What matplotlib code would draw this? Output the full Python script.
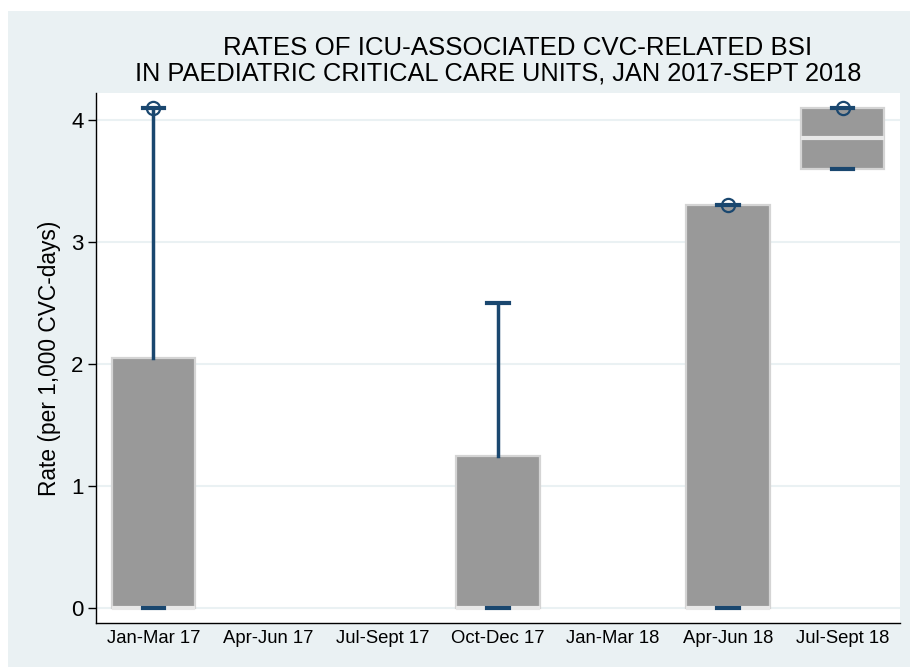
import matplotlib
matplotlib.use('Agg')
import matplotlib.pyplot as plt
from matplotlib.patches import Rectangle

plt.rcParams['font.family'] = ['Liberation Sans', 'DejaVu Sans']

# quarters and box summary values (None = no data)
quarters = ['Jan-Mar 17', 'Apr-Jun 17', 'Jul-Sept 17', 'Oct-Dec 17',
            'Jan-Mar 18', 'Apr-Jun 18', 'Jul-Sept 18']
q1 = [0.0, None, None, 0.0, None, 0.0, 3.6]
med = [0.0, None, None, 0.0, None, 0.0, 3.85]
q3 = [2.05, None, None, 1.25, None, 3.3, 4.1]
whis_lo = [0.0, None, None, 0.0, None, 0.0, 3.6]
whis_hi = [4.1, None, None, 2.5, None, 3.3, 4.1]
outliers = [[4.1], [], [], [], [], [3.3], [4.1]]

title_lines = ['RATES OF ICU-ASSOCIATED CVC-RELATED BSI',
               'IN PAEDIATRIC CRITICAL CARE UNITS, JAN 2017-SEPT 2018']

navy = '#1A476F'
panel = '#EAF1F3'

fig = plt.figure(figsize=(9.1, 6.67), dpi=100)
fig.patch.set_facecolor('white')
# Stata-like graph region
fig.patches.append(Rectangle((8 / 910, 0), 1, (667 - 11) / 667,
                             transform=fig.transFigure, facecolor=panel,
                             edgecolor='none', zorder=-1))

ax = fig.add_axes([96 / 910, 44 / 667, (900 - 96) / 910, (623 - 93) / 667])
ax.set_facecolor('white')

stats = []
positions = []
for i in range(len(quarters)):
    if q1[i] is None:
        continue
    stats.append(dict(q1=q1[i], med=med[i], q3=q3[i], whislo=whis_lo[i],
                      whishi=whis_hi[i], fliers=outliers[i]))
    positions.append(i)

parts = ax.bxp(stats, positions=positions, widths=0.73, capwidths=0.19,
               patch_artist=True, manage_ticks=False,
               boxprops=dict(facecolor='#999999', edgecolor='#D4D4D4', linewidth=1.6),
               medianprops=dict(color='#E8E8E8', linewidth=3),
               whiskerprops=dict(color=navy, linewidth=2.5),
               capprops=dict(color=navy, linewidth=3),
               flierprops=dict(marker='o', markerfacecolor='none', markeredgecolor=navy,
                               markersize=9.5, markeredgewidth=1.6),
               zorder=3)
# caps and outlier circles sit on top of the box outline
for c in parts['caps']:
    c.set_zorder(5)
for f in parts['fliers']:
    f.set_zorder(6)

ax.set_xlim(-0.5, 6.5)
ax.set_ylim(-0.12, 4.22)
ax.set_xticks(range(len(quarters)))
ax.set_xticklabels(quarters, fontsize=13.3)
ax.tick_params(axis='x', length=0, pad=5)
ax.set_yticks([0, 1, 2, 3, 4])
ax.tick_params(axis='y', length=6, width=1, labelsize=16, pad=3)
ax.grid(axis='y', color=panel, linewidth=1.5, zorder=0)
ax.set_axisbelow(True)

for s in ['top', 'right']:
    ax.spines[s].set_visible(False)
ax.spines['left'].set_linewidth(1)
ax.spines['bottom'].set_linewidth(1)

ax.set_ylabel('Rate (per 1,000 CVC-days)', fontsize=16.4, labelpad=7)

fig.text(518 / 910, 1 - 48 / 667, title_lines[0], ha='center', va='center', fontsize=18.6)
fig.text(498 / 910, 1 - 74 / 667, title_lines[1], ha='center', va='center', fontsize=18.3)

fig.savefig('out.png', dpi=100, facecolor=fig.get_facecolor())
